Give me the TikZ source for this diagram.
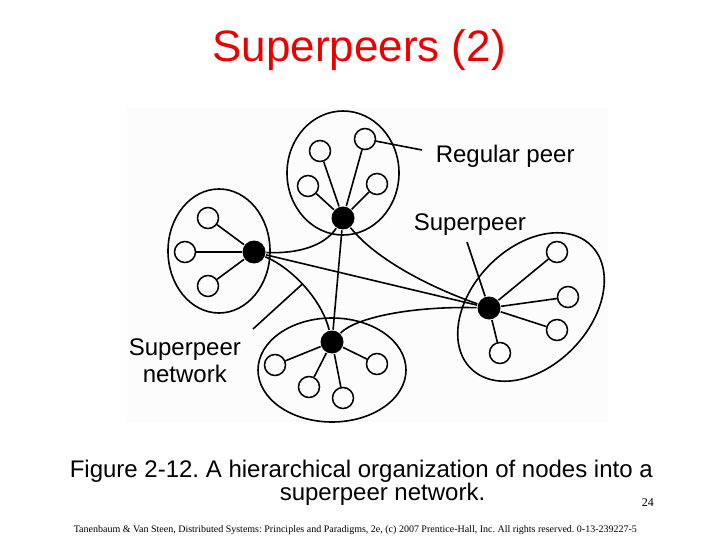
\documentclass[tikz,border=0pt]{standalone}
\usepackage{fontspec}
\setmainfont{Liberation Sans}
\newfontfamily\serifface{Liberation Serif}
\definecolor{figbg}{RGB}{252,252,252}
\definecolor{titlered}{RGB}{235,0,0}
\frenchspacing
\begin{document}
\begin{tikzpicture}[x=1pt,y=-1pt, line width=1.6pt,
  peer/.style={circle, draw, minimum size=21pt, inner sep=0pt, line width=1.5pt},
  sp/.style={circle, fill=black, minimum size=23pt, inner sep=0pt},
  lbl/.style={anchor=base west, inner sep=0pt, font=\fontsize{24}{28}\selectfont},
  cluster/.style={line width=1.6pt}]
\useasboundingbox (0,0) rectangle (720,540);
\fill[figbg] (127,108) rectangle (608,422);

% title
\node[anchor=base, inner sep=0pt, text=titlered, font=\fontsize{44}{50}\selectfont] (title) at (359,62) {Superpeers (2)};

% clusters
\draw[cluster] (343,173) ellipse [x radius=56, y radius=62];
\draw[cluster] (219,251) ellipse [x radius=51, y radius=62];
\draw[cluster, rotate around={46:(531,307)}] (531,307) ellipse [x radius=86, y radius=59];
\draw[cluster] (332,370) ellipse [x radius=74, y radius=52];

% superpeers
\node[sp] (t) at (343,218) {};
\node[sp] (l) at (254,252) {};
\node[sp] (r) at (489,308) {};
\node[sp] (b) at (332,342) {};

% regular peers
\node[peer] (t1) at (320,151) {};
\node[peer] (t2) at (365,139) {};
\node[peer] (t3) at (308,186) {};
\node[peer] (t4) at (377,184) {};
\node[peer] (l1) at (208,218) {};
\node[peer] (l2) at (185,252) {};
\node[peer] (l3) at (208,286) {};
\node[peer] (r1) at (557,252) {};
\node[peer] (r2) at (568,297) {};
\node[peer] (r3) at (557,330) {};
\node[peer] (r4) at (500,353) {};
\node[peer] (b1) at (275,365) {};
\node[peer] (b2) at (309,387) {};
\node[peer] (b3) at (343,398) {};
\node[peer] (b4) at (377,364) {};

% spokes
\foreach \p in {t1,t2,t3,t4} \draw (t) -- (\p);
\foreach \p in {l1,l2,l3} \draw (l) -- (\p);
\foreach \p in {r1,r2,r3,r4} \draw (r) -- (\p);
\foreach \p in {b1,b2,b3,b4} \draw (b) -- (\p);

% superpeer network links
\draw (l) .. controls (300,254) and (325,245) .. (t);
\draw (l) -- (r);
\draw (l) .. controls (292,268) and (322,300) .. (b) coordinate[pos=0.47] (np);
\draw (t) -- (b);
\draw (t) .. controls (368,250) and (410,280) .. (r);
\draw (b) .. controls (355,318) and (410,306) .. (r);

% labels
\node[lbl] (reglbl) at (435,163) {Regular peer};
\node[lbl] (splbl) at (413,230) {Superpeer};
\node[lbl] (netlbl1) at (128,355) {Superpeer};
\node[lbl] (netlbl2) at (142,382) {network};

% pointers
\coordinate (regp) at (422,150);
\draw (t2) -- (regp);
\coordinate (spp) at (467,242);
\draw (spp) -- (r);
\coordinate (netp) at (253,329);
\draw (netp) -- (np);

% caption
\node[anchor=base west, inner sep=0pt, font=\fontsize{24}{28}\selectfont] (cap1) at (69,477) {Figure 2-12. A hierarchical organization of nodes into a};
\node[anchor=base west, inner sep=0pt, font=\fontsize{24}{28}\selectfont] (cap2) at (279,500) {superpeer network.};
\node[anchor=base west, inner sep=0pt, font=\serifface\fontsize{12}{14}\selectfont] (pg) at (641,506) {24};
\node[anchor=base west, inner sep=0pt, font=\serifface\fontsize{9.5}{11}\selectfont] (foot) at (73,532) {\resizebox{563pt}{!}{Tanenbaum \& Van Steen, Distributed Systems: Principles and Paradigms, 2e, (c) 2007 Prentice-Hall, Inc. All rights reserved. 0-13-239227-5}};
\end{tikzpicture}
\end{document}
